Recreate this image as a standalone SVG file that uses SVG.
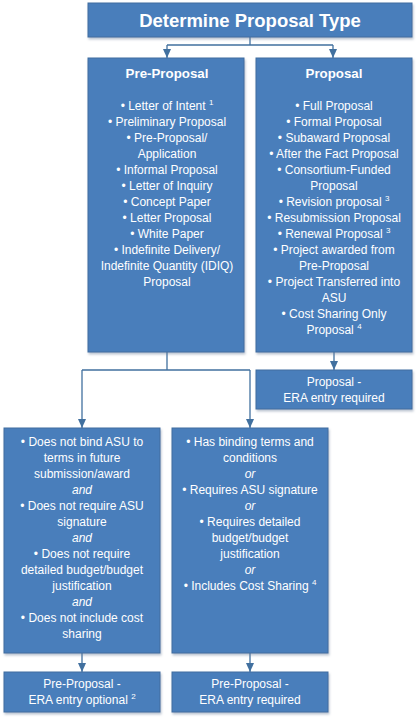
<svg xmlns="http://www.w3.org/2000/svg" width="417" height="720" viewBox="0 0 417 720">
<defs>
<filter id="sh" x="-10%" y="-10%" width="120%" height="130%">
<feDropShadow dx="1" dy="2" stdDeviation="1" flood-color="#6b7f99" flood-opacity="0.45"/>
</filter>
<marker id="ar" markerWidth="9" markerHeight="8" refX="9" refY="4" orient="auto" markerUnits="userSpaceOnUse">
<path d="M0,0 L9,4 L0,8 z" fill="#41709F"/>
</marker>
</defs>
<style>
.box{fill:#4A7EBB;stroke:#3E6D9F;stroke-width:1;filter:url(#sh)}
text{font-family:"Liberation Sans",Arial,sans-serif;fill:#ffffff;text-anchor:middle}
.t{font-size:12px}
.i{font-size:12px;font-style:italic}
.h{font-size:13.3px;font-weight:bold}
.ti{font-size:18.5px;font-weight:bold}
.s{font-size:8px}
.c{fill:none;stroke:#41709F;stroke-width:1.3}
</style>
<rect width="417" height="720" fill="#ffffff"/>
<g id="connectors">
<path class="c" d="M250,37 V45 M167,45 H333"/>
<path class="c" d="M167,45 V58" marker-end="url(#ar)"/>
<path class="c" d="M333,45 V58" marker-end="url(#ar)"/>
<path class="c" d="M167,352 V370 M82,370 H250"/>
<path class="c" d="M82,370 V428" marker-end="url(#ar)"/>
<path class="c" d="M250,370 V428" marker-end="url(#ar)"/>
<path class="c" d="M334,352 V370" marker-end="url(#ar)"/>
<path class="c" d="M82,653 V672" marker-end="url(#ar)"/>
<path class="c" d="M250,653 V672" marker-end="url(#ar)"/>
</g>
<g id="title">
<rect class="box" x="88" y="3" width="324" height="34"/>
<text class="ti" x="250" y="27">Determine Proposal Type</text>
</g>
<g id="pre-proposal">
<rect class="box" x="88" y="58" width="156" height="294"/>
<text class="h" x="167" y="78">Pre-Proposal</text>
<text class="t" x="167" y="110">• Letter of Intent <tspan class="s" dy="-5">1</tspan></text>
<text class="t" x="167" y="126">• Preliminary Proposal</text>
<text class="t" x="167" y="142">• Pre-Proposal/</text>
<text class="t" x="167" y="158">Application</text>
<text class="t" x="167" y="174">• Informal Proposal</text>
<text class="t" x="167" y="190">• Letter of Inquiry</text>
<text class="t" x="167" y="206">• Concept Paper</text>
<text class="t" x="167" y="222">• Letter Proposal</text>
<text class="t" x="167" y="238">• White Paper</text>
<text class="t" x="167" y="254">• Indefinite Delivery/</text>
<text class="t" x="167" y="270">Indefinite Quantity (IDIQ)</text>
<text class="t" x="167" y="286">Proposal</text>
</g>
<g id="proposal">
<rect class="box" x="256" y="58" width="156" height="294"/>
<text class="h" x="334" y="78">Proposal</text>
<text class="t" x="334" y="110">• Full Proposal</text>
<text class="t" x="334" y="126">• Formal Proposal</text>
<text class="t" x="334" y="142">• Subaward Proposal</text>
<text class="t" x="334" y="158">• After the Fact Proposal</text>
<text class="t" x="334" y="174">• Consortium-Funded</text>
<text class="t" x="334" y="190">Proposal</text>
<text class="t" x="334" y="206">• Revision proposal <tspan class="s" dy="-5">3</tspan></text>
<text class="t" x="334" y="222">• Resubmission Proposal</text>
<text class="t" x="334" y="238">• Renewal Proposal <tspan class="s" dy="-5">3</tspan></text>
<text class="t" x="334" y="254">• Project awarded from</text>
<text class="t" x="334" y="270">Pre-Proposal</text>
<text class="t" x="334" y="286">• Project Transferred into</text>
<text class="t" x="334" y="302">ASU</text>
<text class="t" x="334" y="318">• Cost Sharing Only</text>
<text class="t" x="334" y="334">Proposal <tspan class="s" dy="-5">4</tspan></text>
</g>
<g id="proposal-era">
<rect class="box" x="256" y="370" width="156" height="39"/>
<text class="t" x="334" y="386">Proposal -</text>
<text class="t" x="334" y="402">ERA entry required</text>
</g>
<g id="no-bind">
<rect class="box" x="4" y="428" width="156" height="225"/>
<text class="t" x="82" y="446">• Does not bind ASU to</text>
<text class="t" x="82" y="462">terms in future</text>
<text class="t" x="82" y="478">submission/award</text>
<text class="i" x="82" y="494">and</text>
<text class="t" x="82" y="510">• Does not require ASU</text>
<text class="t" x="82" y="526">signature</text>
<text class="i" x="82" y="542">and</text>
<text class="t" x="82" y="558">• Does not require</text>
<text class="t" x="82" y="574">detailed budget/budget</text>
<text class="t" x="82" y="590">justification</text>
<text class="i" x="82" y="606">and</text>
<text class="t" x="82" y="622">• Does not include cost</text>
<text class="t" x="82" y="638">sharing</text>
</g>
<g id="binding">
<rect class="box" x="172" y="428" width="156" height="225"/>
<text class="t" x="250" y="446">• Has binding terms and</text>
<text class="t" x="250" y="462">conditions</text>
<text class="i" x="250" y="478">or</text>
<text class="t" x="250" y="494">• Requires ASU signature</text>
<text class="i" x="250" y="510">or</text>
<text class="t" x="250" y="526">• Requires detailed</text>
<text class="t" x="250" y="542">budget/budget</text>
<text class="t" x="250" y="558">justification</text>
<text class="i" x="250" y="574">or</text>
<text class="t" x="250" y="590">• Includes Cost Sharing <tspan class="s" dy="-5">4</tspan></text>
</g>
<g id="pre-era-optional">
<rect class="box" x="4" y="672" width="156" height="40"/>
<text class="t" x="82" y="688">Pre-Proposal -</text>
<text class="t" x="82" y="704">ERA entry optional <tspan class="s" dy="-5">2</tspan></text>
</g>
<g id="pre-era-required">
<rect class="box" x="172" y="672" width="156" height="40"/>
<text class="t" x="250" y="688">Pre-Proposal -</text>
<text class="t" x="250" y="704">ERA entry required</text>
</g>
</svg>
